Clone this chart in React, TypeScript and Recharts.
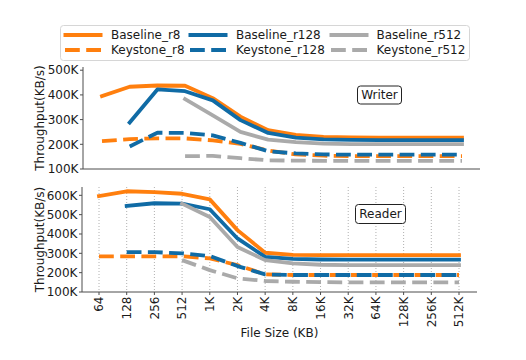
import React from 'react';
import { LineChart, Line, XAxis, YAxis, CartesianGrid } from 'recharts';

// ---------- data ----------
const fileSizes = ['64', '128', '256', '512', '1K', '2K', '4K', '8K', '16K', '32K', '64K', '128K', '256K', '512K'];

// Writer throughput (thousands of KB/s)
const writerBaselineR8 = [395, 433, 438, 437, 387, 312, 257, 238, 230, 228, 227, 227, 227, 227];
const writerKeystoneR8 = [213, 221, 224, 224, 216, 202, 175, 159, 154, 152, 152, 152, 152, 152];
const writerBaselineR128 = [null, 288, 422, 415, 378, 298, 246, 227, 220, 218, 217, 217, 217, 217];
const writerKeystoneR128 = [null, 191, 247, 246, 236, 206, 172, 163, 159, 158, 158, 158, 158, 158];
const writerBaselineR512 = [null, null, null, 383, 317, 250, 219, 209, 203, 201, 201, 201, 201, 201];
const writerKeystoneR512 = [null, null, null, 152, 153, 144, 135, 134, 133, 133, 133, 133, 133, 133];

// Reader throughput (thousands of KB/s)
const readerBaselineR8 = [596, 621, 617, 608, 579, 420, 303, 292, 291, 291, 291, 291, 291, 291];
const readerKeystoneR8 = [284, 284, 284, 285, 274, 239, 191, 188, 188, 188, 188, 188, 188, 188];
const readerBaselineR128 = [null, 545, 559, 557, 528, 377, 282, 271, 268, 267, 267, 267, 267, 267];
const readerKeystoneR128 = [null, 306, 306, 300, 286, 234, 191, 188, 188, 188, 188, 188, 188, 188];
const readerBaselineR512 = [null, null, null, 557, 488, 333, 265, 248, 241, 239, 239, 239, 239, 239];
const readerKeystoneR512 = [null, null, null, 265, 213, 171, 157, 153, 151, 150, 150, 150, 150, 150];

const writerTicks = [100, 200, 300, 400, 500];
const readerTicks = [100, 200, 300, 400, 500, 600];

const ORANGE = '#ff7f0e';
const BLUE = '#106ba5';
const GRAY = '#aaaaaa';

const seriesDefs = [
  { key: 'baselineR8', name: 'Baseline_r8', color: ORANGE, dashed: false },
  { key: 'keystoneR8', name: 'Keystone_r8', color: ORANGE, dashed: true },
  { key: 'baselineR128', name: 'Baseline_r128', color: BLUE, dashed: false },
  { key: 'keystoneR128', name: 'Keystone_r128', color: BLUE, dashed: true },
  { key: 'baselineR512', name: 'Baseline_r512', color: GRAY, dashed: false },
  { key: 'keystoneR512', name: 'Keystone_r512', color: GRAY, dashed: true },
];

const writerData = fileSizes.map((size, i) => ({
  size,
  baselineR8: writerBaselineR8[i],
  keystoneR8: writerKeystoneR8[i],
  baselineR128: writerBaselineR128[i],
  keystoneR128: writerKeystoneR128[i],
  baselineR512: writerBaselineR512[i],
  keystoneR512: writerKeystoneR512[i],
}));

const readerData = fileSizes.map((size, i) => ({
  size,
  baselineR8: readerBaselineR8[i],
  keystoneR8: readerKeystoneR8[i],
  baselineR128: readerBaselineR128[i],
  keystoneR128: readerKeystoneR128[i],
  baselineR512: readerBaselineR512[i],
  keystoneR512: readerKeystoneR512[i],
}));

// ---------- styling ----------
const FONT = "'DejaVu Sans', sans-serif";
const AXIS = '#4d4d4d';
const TEXT = '#1a1a1a';
const LW = 3.8;
const DASH = '14.8 6.4';

const fmtK = (v: number) => `${v}K`;

const RotatedTick = (props: any) => {
  const { x, y, payload } = props;
  return (
    <g transform={`translate(${x},${y})`}>
      <text transform="rotate(-90)" textAnchor="end" dy="0.36em" fill={TEXT} fontSize={12} fontFamily={FONT}>
        {payload.value}
      </text>
    </g>
  );
};

const renderLines = () =>
  seriesDefs.map((s) => (
    <Line
      key={s.key}
      type="linear"
      dataKey={s.key}
      name={s.name}
      stroke={s.color}
      strokeWidth={LW}
      strokeDasharray={s.dashed ? DASH : undefined}
      strokeLinecap={s.dashed ? 'butt' : 'square'}
      strokeLinejoin="round"
      dot={false}
      activeDot={false}
      connectNulls={false}
      isAnimationActive={false}
    />
  ));

const legendCols = [63.5, 188.5, 329.5];
const legendTextX = [111, 236, 376.5];
const legendRows = [35, 50];

export default function App() {
  return (
    <div style={{ position: 'absolute', left: 0, top: 0, width: 526, height: 360, background: '#fff', fontFamily: FONT }}>
      {/* Writer panel */}
      <div style={{ position: 'absolute', left: 0, top: 0 }}>
        <LineChart width={526} height={180} data={writerData} margin={{ top: 67, right: 46, left: 0, bottom: 0 }}>
          <CartesianGrid horizontal={false} vertical syncWithTicks stroke="#b0b0b0" strokeDasharray="1 2" />
          <XAxis
            dataKey="size"
            interval={0}
            padding={{ left: 19, right: 18 }}
            height={11}
            tick={false}
            tickSize={3}
            axisLine={{ stroke: AXIS }}
            tickLine={{ stroke: AXIS }}
          />
          <YAxis
            type="number"
            domain={[100, 513]}
            allowDataOverflow
            ticks={writerTicks}
            interval={0}
            tickFormatter={fmtK}
            width={83}
            tickSize={3}
            tickMargin={1.5}
            tick={{ fill: TEXT, fontSize: 12 }}
            axisLine={{ stroke: AXIS }}
            tickLine={{ stroke: AXIS }}
            label={{ value: 'Throughput(KB/s)', angle: -90, position: 'insideLeft', offset: 40, textAnchor: 'middle', style: { fill: TEXT, fontSize: 12 } }}
          />
          {renderLines()}
        </LineChart>
      </div>

      {/* Reader panel */}
      <div style={{ position: 'absolute', left: 0, top: 175 }}>
        <LineChart width={526} height={185} data={readerData} margin={{ top: 12, right: 49, left: 0, bottom: 0 }}>
          <CartesianGrid horizontal={false} vertical syncWithTicks stroke="#b0b0b0" strokeDasharray="1 2" />
          <XAxis
            dataKey="size"
            interval={0}
            padding={{ left: 17, right: 18 }}
            height={68}
            tick={<RotatedTick />}
            tickSize={3}
            tickMargin={1.5}
            axisLine={{ stroke: AXIS }}
            tickLine={{ stroke: AXIS }}
            label={{ value: 'File Size (KB)', position: 'insideBottom', offset: 23, style: { fill: TEXT, fontSize: 12 } }}
          />
          <YAxis
            type="number"
            domain={[100, 643]}
            allowDataOverflow
            ticks={readerTicks}
            interval={0}
            tickFormatter={fmtK}
            width={82}
            tickSize={3}
            tickMargin={1.5}
            tick={{ fill: TEXT, fontSize: 12 }}
            axisLine={{ stroke: AXIS }}
            tickLine={{ stroke: AXIS }}
            label={{ value: 'Throughput(KB/s)', angle: -90, position: 'insideLeft', offset: 40, textAnchor: 'middle', style: { fill: TEXT, fontSize: 12 } }}
          />
          {renderLines()}
        </LineChart>
      </div>

      {/* Legend and panel annotations */}
      <svg width={526} height={360} style={{ position: 'absolute', left: 0, top: 0, pointerEvents: 'none' }}>
        <rect x={60.5} y={25.5} width={409} height={35} rx={3} fill="#ffffff" fillOpacity={0.85} stroke="#d6d6d6" />
        {seriesDefs.map((s, i) => {
          const col = Math.floor(i / 2);
          const row = i % 2;
          const y = legendRows[row];
          return (
            <g key={s.key}>
              <line
                x1={legendCols[col] + (s.dashed ? 1.5 : 0)}
                x2={legendCols[col] + 39}
                y1={y}
                y2={y}
                stroke={s.color}
                strokeWidth={LW}
                strokeDasharray={s.dashed ? DASH : undefined}
                strokeLinecap="butt"
              />
              <text x={legendTextX[col]} y={y} dy="0.36em" fontSize={12} fill={TEXT} fontFamily={FONT}>
                {s.name}
              </text>
            </g>
          );
        })}
        <rect x={357.5} y={86} width={44} height={18} rx={3} fill="#fff" stroke="#222" strokeWidth={1} />
        <text x={379.5} y={95} dy="0.36em" textAnchor="middle" fontSize={12} fill={TEXT} fontFamily={FONT}>
          Writer
        </text>
        <rect x={355.5} y={204.5} width={50} height={19} rx={3} fill="#fff" stroke="#222" strokeWidth={1} />
        <text x={380.5} y={214} dy="0.36em" textAnchor="middle" fontSize={12} fill={TEXT} fontFamily={FONT}>
          Reader
        </text>
      </svg>
    </div>
  );
}
